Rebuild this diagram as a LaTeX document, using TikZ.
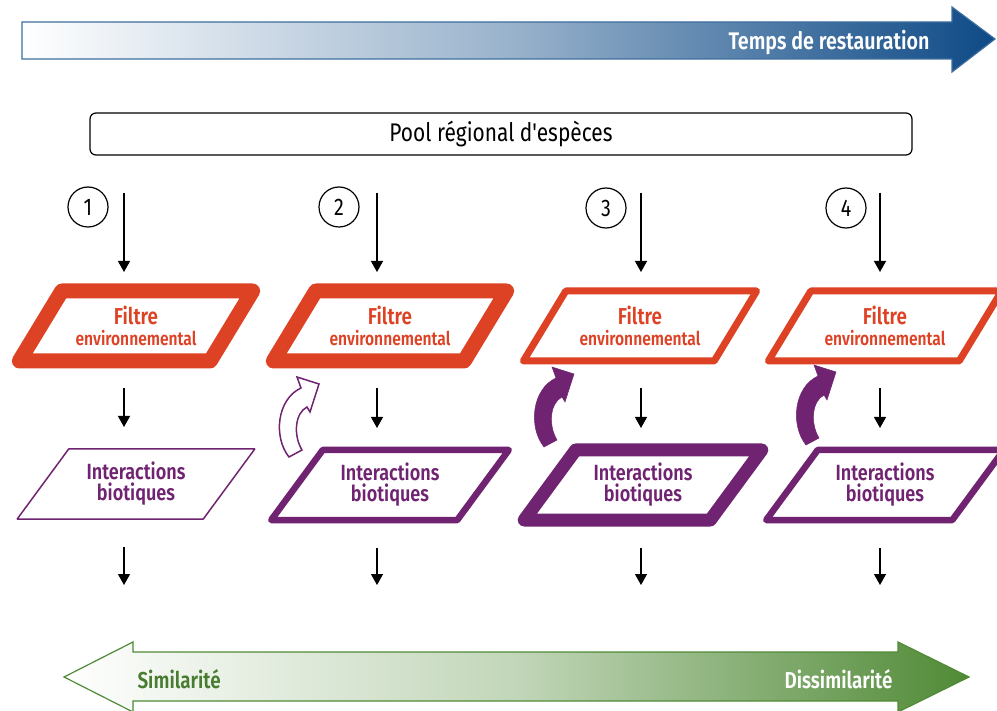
\documentclass[tikz,border=0pt]{standalone}
\usepackage{fontspec}
\setmainfont{Fira Sans}[FakeStretch=0.82, BoldFont={Fira Sans SemiBold}, Ligatures=TeXOff]
\usetikzlibrary{shapes.geometric,arrows.meta}

\definecolor{filtrered}{RGB}{221,66,37}
\definecolor{biopurple}{RGB}{111,35,113}
\definecolor{timeblue}{RGB}{14,74,134}
\definecolor{simgreen}{RGB}{80,138,54}

\tikzset{
  flow/.style={-{Triangle[width=12pt,length=11pt]}, line width=1.3pt},
  para/.style={trapezium, trapezium left angle=49, trapezium right angle=131,
    trapezium stretches=true, minimum height=70pt, line join=round,
    inner sep=0pt, outer sep=0pt, align=center, font=\bfseries\fontsize{22}{21}\selectfont},
  filtre/.style={para, minimum width=234pt, draw=filtrered, text=filtrered},
  interac/.style={para, minimum width=238pt, draw=biopurple, text=biopurple},
  numero/.style={circle, draw, line width=1.2pt, minimum size=40pt,
    inner sep=0pt, font=\fontsize{24}{24}\selectfont},
  boucle/.pic={
    \draw[pic actions] (0,0) .. controls (-16,-20) and (-12,-58) .. (12,-69)
      -- (8,-80) -- (30,-73) -- (21,-45) -- (18,-50)
      .. controls (6,-44) and (4,-22) .. (13,-7) -- cycle;
  }
}

\newcommand{\envtxt}{{\fontsize{23}{21}\selectfont Filtre}\\{\fontsize{19}{21}\selectfont environnemental}}
\newcommand{\biotxt}{Interactions\\biotiques}

\begin{document}
\begin{tikzpicture}[x=1pt,y=-1pt]
  \useasboundingbox (0,0) rectangle (997,711);

  % time arrow
  \shade[left color=white, right color=timeblue, middle color=timeblue!42]
    (22,22) -- (952,22) -- (952,7) -- (995,39) -- (952,72) -- (952,59) -- (22,59) -- cycle;
  \draw[timeblue!80, line width=1.2pt]
    (22,22) -- (952,22) -- (952,7) -- (995,39) -- (952,72) -- (952,59) -- (22,59) -- cycle;
  \node[anchor=base east, text=white, font=\bfseries\fontsize{24}{24}\selectfont] (temps) at (933,50) {Temps de restauration};

  \node[draw, rounded corners=6pt, line width=1.2pt, minimum width=822pt, minimum height=42pt,
    font=\fontsize{25.5}{25}\selectfont] (pool) at (501,134) {Pool régional d'espèces};

  % columns
  \coordinate (c1) at (124,0);
  \coordinate (c2) at (377,0);
  \coordinate (c3) at (641,0);
  \coordinate (c4) at (880,0);
  \coordinate (gtop) at (500,652);

  \node[numero] (n1) at (88,207) {1};
  \node[numero] (n2) at (339,207) {2};
  \node[numero] (n3) at (606,208) {3};
  \node[numero] (n4) at (846,208) {4};

  \node[filtre, line width=15pt] (f1) at (136,326) {\envtxt};
  \node[filtre, line width=15pt] (f2) at (390,326) {\envtxt};
  \node[filtre, line width=7pt] (f3) at (640,326) {\envtxt};
  \node[filtre, line width=7pt] (f4) at (885,326) {\envtxt};

  \node[interac, line width=1.5pt] (i1) at (136,484) {\biotxt};
  \node[interac, line width=6.5pt] (i2) at (390,485) {\biotxt};
  \node[interac, line width=13pt] (i3) at (643,485) {\biotxt};
  \node[interac, line width=6.5pt] (i4) at (885,485) {\biotxt};

  \foreach \k in {1,2,3,4}{
    \draw[flow, shorten <=37pt, shorten >=19pt] (pool.south -| c\k) -- (f\k.north -| c\k);
    \draw[flow, shorten <=27pt, shorten >=22pt] (f\k.south -| c\k) -- (i\k.north -| c\k);
    \draw[flow, shorten <=28pt, shorten >=67pt] (i\k.south -| c\k) -- (gtop -| c\k);
  }

  % feedback arrows
  \pic[draw=biopurple, fill=white, line width=1.5pt] at (289,457) {boucle};
  \pic[draw=biopurple, fill=biopurple, line width=0.5pt] at (544,447) {boucle};
  \pic[draw=biopurple, fill=biopurple, line width=0.5pt] at (806,445) {boucle};

  % similarity arrow
  \shade[left color=white, right color=simgreen, middle color=simgreen!35]
    (64,677) -- (133,642) -- (133,652) -- (898,652) -- (898,642) -- (969,677)
    -- (898,712) -- (898,701) -- (133,701) -- (133,712) -- cycle;
  \draw[simgreen, line width=1.2pt]
    (64,677) -- (133,642) -- (133,652) -- (898,652) -- (898,642) -- (969,677)
    -- (898,712) -- (898,701) -- (133,701) -- (133,712) -- cycle;
  \node[anchor=base west, text=simgreen!90!black, font=\bfseries\fontsize{23}{23}\selectfont] (simil) at (134,688) {Similarité};
  \node[anchor=base east, text=white, font=\bfseries\fontsize{23}{23}\selectfont] (dissimil) at (896,688) {Dissimilarité};
\end{tikzpicture}
\end{document}
